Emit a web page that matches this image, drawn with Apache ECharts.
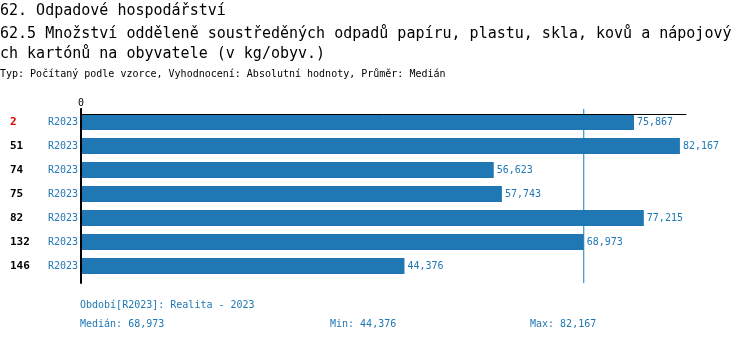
<!DOCTYPE html>
<html><head><meta charset="utf-8">
<script src="https://cdn.jsdelivr.net/npm/echarts@6/dist/echarts.min.js"></script>
<style>html,body{margin:0;padding:0;background:#fff}#c{width:750px;height:342px}</style>
</head><body><div id="c"></div>
<script>
const ranks = ["2", "51", "74", "75", "82", "132", "146"];
const periods = ["R2023", "R2023", "R2023", "R2023", "R2023", "R2023", "R2023"];
const values = [75.867, 82.167, 56.623, 57.743, 77.215, 68.973, 44.376];
const titleLines = ["62. Odpadové hospodářství",
  "62.5 Množství odděleně soustředěných odpadů papíru, plastu, skla, kovů a nápojový",
  "ch kartónů na obyvatele (v kg/obyv.)"];
const subtitle = "Typ: Počítaný podle vzorce, Vyhodnocení: Absolutní hodnoty, Průměr: Medián";
const periodNote = "Období[R2023]: Realita - 2023";
const axisMax = 83;

const fmt = v => v.toFixed(3).replace('.', ',');
const sorted = values.slice().sort((a, b) => a - b);
const median = sorted[Math.floor(sorted.length / 2)];
const vmin = sorted[0], vmax = sorted[sorted.length - 1];
const BLUE = '#1f77b4';
const MONO = '"DejaVu Sans Mono", monospace';
const ts = (size, color) => ({ fontSize: size, fontWeight: 'normal', color: color, fontFamily: MONO });

const chart = echarts.init(document.getElementById('c'));
chart.setOption({
  animation: false,
  textStyle: { fontFamily: MONO },
  title: [
    { text: titleLines[0], left: 0, top: 4, padding: 0, textStyle: ts(15, '#000') },
    { text: titleLines[1], left: 0, top: 27, padding: 0, textStyle: ts(15, '#000') },
    { text: titleLines[2], left: 0, top: 47, padding: 0, textStyle: ts(15, '#000') },
    { text: subtitle, left: 0, top: 69, padding: 0, textStyle: ts(10, '#000') },
    { text: periodNote, left: 80, top: 300, padding: 0, textStyle: ts(10, BLUE) },
    { text: 'Medián: ' + fmt(median), left: 80, top: 319, padding: 0, textStyle: ts(10, BLUE) },
    { text: 'Min: ' + fmt(vmin), left: 330, top: 319, padding: 0, textStyle: ts(10, BLUE) },
    { text: 'Max: ' + fmt(vmax), left: 530, top: 319, padding: 0, textStyle: ts(10, BLUE) }
  ],
  grid: [
    { left: 81, right: 64, top: 109, bottom: 59, containLabel: false },
    { left: 81, right: 64, top: 110, height: 168, containLabel: false }
  ],
  xAxis: [
    { gridIndex: 0, type: 'value', position: 'top', offset: -5, min: 0, max: axisMax, interval: axisMax, z: 10,
      axisLine: { show: true, onZero: false, lineStyle: { color: '#000', width: 1 } },
      axisTick: { show: true, length: 6, customValues: [0], lineStyle: { color: '#000' } },
      axisLabel: { show: true, customValues: [0], margin: 6, fontSize: 10, color: '#000', fontFamily: MONO },
      splitLine: { show: false } },
    { gridIndex: 1, type: 'value', min: 0, max: axisMax, show: false }
  ],
  yAxis: [
    { gridIndex: 0, type: 'value', min: 0, max: 1, z: 10,
      axisLine: { show: true, onZero: false, lineStyle: { color: '#000', width: 2 } },
      axisTick: { show: false }, axisLabel: { show: false }, splitLine: { show: false } },
    { gridIndex: 1, type: 'category', data: ranks, inverse: true,
      axisLine: { show: false }, axisTick: { show: false },
      axisLabel: {
        margin: 4,
        formatter: (v, i) => '{' + (i === 0 ? 'rr' : 'r') + '|' + v + '}{p|' + periods[i] + '}',
        rich: {
          r: { width: 38, align: 'left', fontSize: 11, fontWeight: 'bold', color: '#000', fontFamily: MONO },
          rr: { width: 38, align: 'left', fontSize: 11, fontWeight: 'bold', color: '#e00000', fontFamily: MONO },
          p: { width: 29, align: 'left', fontSize: 10, color: BLUE, fontFamily: MONO }
        }
      } }
  ],
  series: [
    { type: 'bar', xAxisIndex: 1, yAxisIndex: 1, data: values, barWidth: 16,
      itemStyle: { color: BLUE },
      label: { show: true, position: 'right', distance: 3, fontSize: 10, color: BLUE, fontFamily: MONO,
        formatter: p => fmt(p.value) } },
    { type: 'line', xAxisIndex: 0, yAxisIndex: 0, data: [[median, 0], [median, 1]],
      symbol: 'none', showSymbol: false, silent: true, z: 5,
      lineStyle: { color: BLUE, width: 1 } }
  ]
});
</script></body></html>
